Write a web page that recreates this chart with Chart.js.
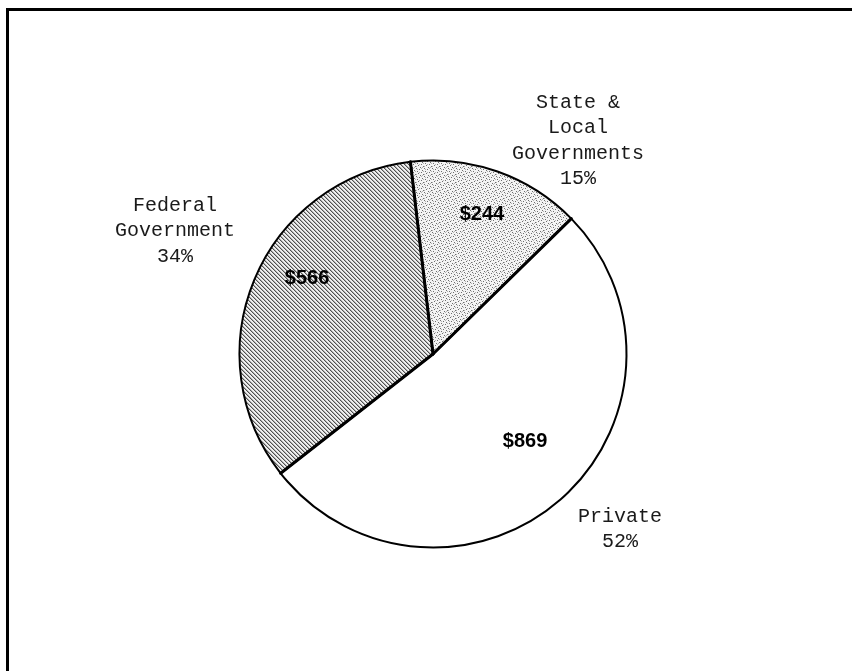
<!DOCTYPE html>
<html>
<head>
<meta charset="utf-8">
<script src="https://cdn.jsdelivr.net/npm/chart.js@4"></script>
<style>
    html, body { margin: 0; padding: 0; background: #fff; }
    canvas { display: block; }
</style>
</head>
<body>
<canvas id="chartFunding" width="852" height="671"></canvas>
<script>
// Funding by source (millions of dollars)
const categories = ['State & Local Governments', 'Private', 'Federal Government'];
const nameLines = [['State &', 'Local', 'Governments'], ['Private'], ['Federal', 'Government']];
const amounts = [244, 869, 566];

const total = amounts.reduce((sum, v) => sum + v, 0);
const shares = amounts.map(v => Math.round(v / total * 100));

// label placement, angle clockwise from 12 o'clock and distance in radii
const namePos = [{ a: 34.25, r: 1.332 }, { a: 133.1, r: 1.324 }, { a: 295.5, r: 1.477 }];
const valuePos = [{ a: 19.4, r: 0.762 }, { a: 133.7, r: 0.658 }, { a: 300.8, r: 0.758 }];

// diagonal hatching over light grey
makeHatch = () => {
    const c = document.createElement('canvas');
    c.width = 4; c.height = 4;
    const g = c.getContext('2d');
    g.fillStyle = '#efefef';
    g.fillRect(0, 0, 4, 4);
    for (let i = 0; i < 4; i++) {
        g.fillStyle = '#505050';
        g.fillRect(i, i, 1, 1);
        g.fillStyle = '#b0b0b0';
        g.fillRect((i + 1) % 4, i, 1, 1);
    }
    return g.createPattern(c, 'repeat');
};

// light stipple
makeStipple = () => {
    const c = document.createElement('canvas');
    c.width = 8; c.height = 8;
    const g = c.getContext('2d');
    g.fillStyle = '#f4f4f4';
    g.fillRect(0, 0, 8, 8);
    const dark = [[0, 0], [3, 1], [6, 2], [1, 3], [5, 4], [2, 5], [7, 6], [4, 7]];
    const mid = [[5, 0], [1, 1], [7, 3], [3, 4], [0, 6], [6, 7]];
    g.fillStyle = '#6e6e6e';
    dark.forEach(([x, y]) => g.fillRect(x, y, 1, 1));
    g.fillStyle = '#b4b4b4';
    mid.forEach(([x, y]) => g.fillRect(x, y, 1, 1));
    return g.createPattern(c, 'repeat');
};

const polar = (cx, cy, radius, deg, frac) => {
    const t = deg * Math.PI / 180;
    return { x: cx + Math.sin(t) * radius * frac, y: cy - Math.cos(t) * radius * frac };
};

const framePlugin = {
    id: 'frame',
    beforeDraw(chart) {
        const ctx = chart.ctx;
        ctx.save();
        ctx.strokeStyle = '#000';
        ctx.lineWidth = 3;
        ctx.beginPath();
        ctx.moveTo(7.5, chart.height);
        ctx.lineTo(7.5, 9.5);
        ctx.lineTo(chart.width, 9.5);
        ctx.stroke();
        ctx.restore();
    }
};

// heavier radial dividers between slices
const dividerPlugin = {
    id: 'dividers',
    afterDatasetsDraw(chart) {
        const ctx = chart.ctx;
        const arcs = chart.getDatasetMeta(0).data;
        ctx.save();
        ctx.strokeStyle = '#000';
        ctx.lineWidth = 3;
        ctx.lineCap = 'round';
        arcs.forEach(arc => {
            ctx.beginPath();
            ctx.moveTo(arc.x, arc.y);
            ctx.lineTo(arc.x + Math.cos(arc.startAngle) * arc.outerRadius,
                       arc.y + Math.sin(arc.startAngle) * arc.outerRadius);
            ctx.stroke();
        });
        ctx.restore();
    }
};

const labelPlugin = {
    id: 'sliceLabels',
    afterDraw(chart) {
        const ctx = chart.ctx;
        const arcs = chart.getDatasetMeta(0).data;
        const cx = arcs[0].x, cy = arcs[0].y, R = arcs[0].outerRadius;
        ctx.save();
        ctx.fillStyle = '#1a1a1a';
        ctx.textAlign = 'center';
        ctx.textBaseline = 'middle';

        // names + percentages outside
        ctx.font = '20px "Liberation Mono", "Courier New", monospace';
        const lineH = 25.5;
        categories.forEach((cat, i) => {
            const lines = [...nameLines[i], shares[i] + '%'];
            const p = polar(cx, cy, R, namePos[i].a, namePos[i].r);
            const top = p.y - (lines.length - 1) * lineH / 2;
            lines.forEach((txt, k) => ctx.fillText(txt, p.x, top + k * lineH));
        });

        // dollar amounts inside
        ctx.font = 'bold 20px "Liberation Sans", Arial, sans-serif';
        ctx.fillStyle = '#000';
        amounts.forEach((v, i) => {
            const p = polar(cx, cy, R, valuePos[i].a, valuePos[i].r);
            ctx.fillText('$' + v, p.x, p.y);
        });
        ctx.restore();
    }
};

const ctx = document.getElementById('chartFunding').getContext('2d');
const chart = new Chart(ctx, {
    type: 'pie',
    data: {
        labels: categories,
        datasets: [{
            data: amounts,
            backgroundColor: [makeStipple(), '#ffffff', makeHatch()],
            borderColor: '#000',
            borderWidth: 2,
            borderAlign: 'center'
        }]
    },
    options: {
        responsive: false,
        animation: false,
        rotation: -6.7,
        layout: {
            padding: { left: 200, right: 186, top: 159.5, bottom: 122.5 }
        },
        plugins: {
            legend: { display: false },
            tooltip: { enabled: false },
            title: { display: false }
        }
    },
    plugins: [framePlugin, dividerPlugin, labelPlugin]
});
</script>
</body>
</html>
